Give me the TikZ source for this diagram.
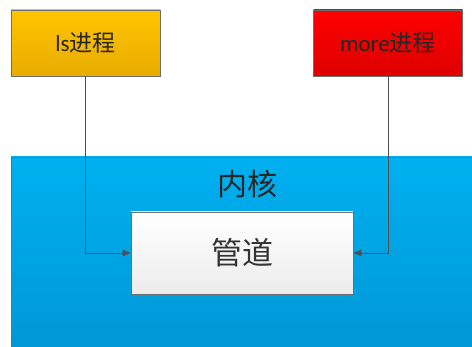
\documentclass[tikz,border=0pt]{standalone}
\usepackage{fontspec}
\setmainfont{Carlito}
\newfontfamily\cjk{Noto Sans CJK SC}
\usetikzlibrary{arrows.meta,shadows}
\definecolor{bordergray}{HTML}{6E6E6E}
\definecolor{linegray}{HTML}{505050}
\tikzset{
  procbox/.style={draw=bordergray, line width=0.8pt, minimum width=149pt, minimum height=66pt, inner sep=0pt, text=black!85, font=\fontsize{23}{26}\selectfont},
  conn/.style={draw=linegray, line width=0.8pt, -{Triangle[length=8pt,width=6.5pt]}},
}
\begin{document}
\begin{tikzpicture}[x=1pt,y=-1pt]
\useasboundingbox (0,0) rectangle (472,347);
\clip (0,0) rectangle (472,347);
\fill[white] (0,0) rectangle (472,347);
% kernel
\shade[top color={rgb,255:red,0;green,176;blue,240}, bottom color={rgb,255:red,0;green,150;blue,212}] (11,157) rectangle (480,360);
\draw[bordergray, line width=0.8pt] (11,360) -- (11,157) -- (480,157);
\node[font=\cjk\fontsize{30}{33}\selectfont, text=black!85] (kern) at (247,184) {内核};
% processes
\node[procbox, top color={rgb,255:red,255;green,196;blue,0}, bottom color={rgb,255:red,232;green,172;blue,0}] (ls) at (85.5,43) {ls{\cjk 进程}};
\node[procbox, top color={rgb,255:red,255;green,0;blue,0}, bottom color={rgb,255:red,222;green,0;blue,0}] (more) at (388,43) {more{\cjk 进程}};
% pipe
\node[draw=bordergray, line width=0.8pt, minimum width=222pt, minimum height=82pt, inner sep=0pt, top color=white, bottom color={rgb,255:red,236;green,236;blue,236}, text=black!80, font=\cjk\fontsize{31}{35}\selectfont] (pipe) at (242,253) {管道};
% connectors
\draw[conn] (ls.south) |- (pipe.west);
\draw[conn] (more.south) |- (pipe.east);
\end{tikzpicture}
\end{document}
